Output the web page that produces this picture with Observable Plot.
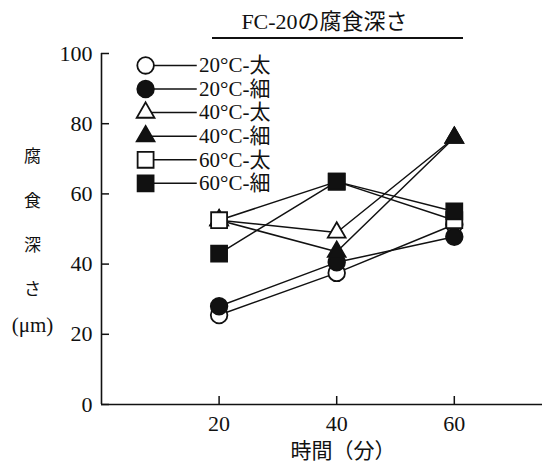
<!DOCTYPE html>
<html><head><meta charset="utf-8">
<script src="https://cdn.jsdelivr.net/npm/d3@7"></script>
<script src="https://cdn.jsdelivr.net/npm/@observablehq/plot@0.6"></script>
<style>
html,body{margin:0;padding:0;background:#fff;}
#wrap{position:relative;width:542px;height:463px;font-family:"Liberation Serif","Noto Sans CJK JP",serif;color:#111;}
#title{position:absolute;left:212px;top:6px;width:251px;height:33px;border-bottom:2px solid #111;text-align:center;padding-right:26px;box-sizing:border-box;font-size:22px;line-height:32px;white-space:nowrap;}
#chart{position:absolute;left:0;top:0;}
</style></head>
<body><div id="wrap"><div id="chart"></div><div id="title">FC-20の腐食深さ</div></div>
<script>
const times = [20, 40, 60];
const seriesNames = ["20°C-太", "20°C-細", "40°C-太", "40°C-細", "60°C-太", "60°C-細"];
const c20thick = [25.5, 37.5, 51.3];
const c20thin = [28, 40.5, 47.8];
const c40thick = [52.5, 49, 76];
const c40thin = [52.5, 43.5, 76];
const c60thick = [52.5, 63.5, 52.5];
const c60thin = [43, 63.5, 55];
const seriesValues = [c20thick, c20thin, c40thick, c40thin, c60thick, c60thin];
const symbols = ["circle", "circle", "triangle", "triangle", "square", "square"];
const fills = ["white", "#111", "white", "#111", "white", "#111"];
const radii = {circle: 8.3, triangle: 6.6, square: 9};
const yTicks = [0, 20, 40, 60, 80, 100];
const xTicks = [20, 40, 60];
const xLabel = "時間（分）";
const yLabelWords = ["腐", "食", "深", "さ"];
const yLabelUnit = "(μm)";

const rows = [];
seriesNames.forEach((s, i) => times.forEach((t, j) => rows.push({series: s, i, time: t, value: seriesValues[i][j]})));
const legend = seriesNames.map((s, i) => ({series: s, i, ly: 96.6 - 6.72 * i}));

const marks = [
  Plot.ruleY([0], {strokeWidth: 1.6, stroke: "#111"}),
  Plot.ruleX([0], {strokeWidth: 1.6, stroke: "#111"}),
  Plot.axisY({ticks: yTicks, tickSize: 8, dx: 8, fill: "none", stroke: "#111", strokeWidth: 1.5, label: null}),
  Plot.axisY({ticks: yTicks, tickSize: 0, tickPadding: 9, fontSize: 22, label: null}),
  Plot.axisX({ticks: xTicks, tickSize: 8, dy: -8, fill: "none", stroke: "#111", strokeWidth: 1.5, label: null}),
  Plot.axisX({ticks: xTicks, tickSize: 0, tickPadding: 11, fontSize: 22, label: null}),
  Plot.text([xLabel], {frameAnchor: "bottom", dy: 47, dx: 21, fontSize: 21, lineAnchor: "middle"}),
  Plot.text([yLabelWords.join("\n")], {frameAnchor: "left", dx: -69, dy: -14.5, lineHeight: 2.6, fontSize: 17, textAnchor: "middle"}),
  Plot.text([yLabelUnit], {frameAnchor: "left", dx: -69, dy: 96.5, fontSize: 21, textAnchor: "middle"}),
  Plot.line(rows, {x: "time", y: "value", z: "series", stroke: "#111", strokeWidth: 1.5}),
  Plot.link(legend, {x1: 7.5, x2: 16.2, y1: "ly", y2: "ly", stroke: "#111", strokeWidth: 1.5}),
  Plot.text(legend, {x: 16.6, y: "ly", text: "series", textAnchor: "start", fontSize: 21})
];
seriesNames.forEach((s, i) => {
  const sym = symbols[i];
  marks.push(Plot.dot(rows.filter(d => d.i === i), {x: "time", y: "value", symbol: () => sym, r: radii[sym], fill: fills[i], stroke: "#111", strokeWidth: 1.8}));
  marks.push(Plot.dot(legend.filter(d => d.i === i), {x: 7.5, y: "ly", symbol: () => sym, r: radii[sym], fill: fills[i], stroke: "#111", strokeWidth: 1.8}));
});

const chart = Plot.plot({
  width: 542, height: 463,
  marginLeft: 101, marginRight: 0, marginTop: 53, marginBottom: 59,
  x: {domain: [0, 75], axis: null},
  y: {domain: [0, 100], axis: null},
  symbol: {type: "identity"},
  style: {fontFamily: '"Liberation Serif","Noto Sans CJK JP",serif', color: "#111", background: "white"},
  marks
});
document.getElementById("chart").appendChild(chart);
</script></body></html>
